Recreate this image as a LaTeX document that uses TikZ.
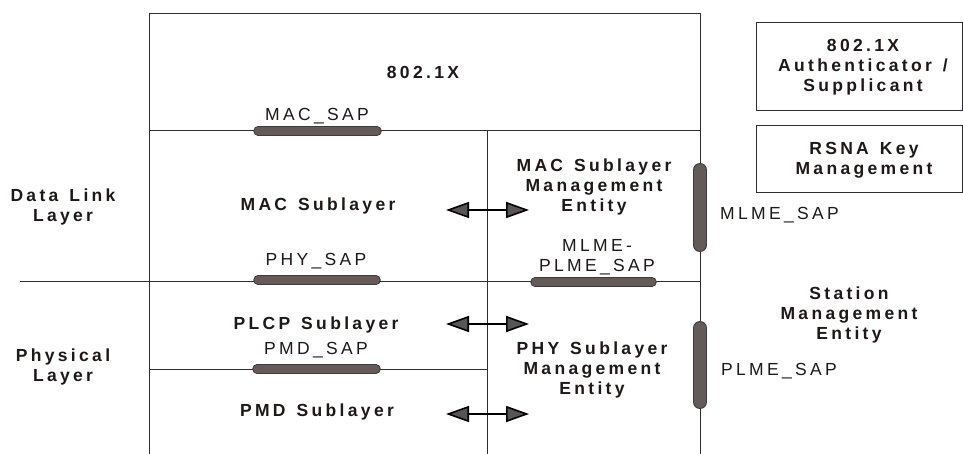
\documentclass[tikz,border=0pt]{standalone}
\usepackage{fontspec}
\setmainfont{Liberation Sans}
\newfontfamily\lsfont{Liberation Sans}[LetterSpace=19,WordSpace=1.35]
\usetikzlibrary{arrows.meta}
\definecolor{txt}{RGB}{30,24,24}
\definecolor{linec}{RGB}{45,45,50}
\definecolor{pillc}{RGB}{100,90,90}
\definecolor{pilld}{RGB}{65,58,58}
\definecolor{arrc}{RGB}{90,85,85}
\tikzset{
  lbl/.style={font=\lsfont\bfseries\fontsize{17.5}{20}\selectfont, align=center, text=txt, inner sep=0pt},
  saplbl/.style={font=\lsfont\fontsize{17.5}{20}\selectfont, align=center, text=txt, inner sep=0pt},
  thinline/.style={draw=linec, line width=1pt},
  hpill/.style={draw=pilld, line width=1pt, line cap=round, double=pillc, double distance=7.5pt},
  vpill/.style={draw=pilld, line width=1pt, line cap=round, double=pillc, double distance=12pt},
  darr/.style={draw=black, line width=1.6pt,
    {Triangle[length=23pt,width=16pt,fill=arrc]}-{Triangle[length=23pt,width=16pt,fill=arrc]}},
  boxr/.style={draw=linec, line width=1pt}
}
\begin{document}
\begin{tikzpicture}[x=1pt,y=-1pt]
\useasboundingbox (0,0) rectangle (963,454);
\fill[white] (0,0) rectangle (963,454);
% frame coordinates
\coordinate (tl) at (149,14);
\coordinate (tr) at (700,14);
\coordinate (bl) at (149,454);
\coordinate (br) at (700,454);
\coordinate (macl) at (149,131);
\coordinate (macr) at (700,131);
\coordinate (divt) at (487,131);
\coordinate (divb) at (487,454);
\coordinate (phyl) at (20,281);
\coordinate (phyr) at (700,281);
\coordinate (pmdl) at (149,369);
\coordinate (pmdr) at (487,369);
\draw[thinline] (bl) -- (tl) -- (tr) -- (br);
\draw[thinline] (macl) -- (macr);
\draw[thinline] (divt) -- (divb);
\draw[thinline] (phyl) -- (phyr);
\draw[thinline] (pmdl) -- (pmdr);
% SAP pills
\coordinate (macsapa) at (258,131);
\coordinate (macsapb) at (377,131);
\coordinate (physapa) at (258,280);
\coordinate (physapb) at (376,280);
\coordinate (pmdsapa) at (257,369);
\coordinate (pmdsapb) at (376,369);
\coordinate (mpsapa) at (535,282);
\coordinate (mpsapb) at (652,282);
\coordinate (mlmea) at (700,170);
\coordinate (mlmeb) at (700,245);
\coordinate (plmea) at (700,328);
\coordinate (plmeb) at (700,402);
\draw[hpill] (macsapa) -- (macsapb);
\draw[hpill] (physapa) -- (physapb);
\draw[hpill] (pmdsapa) -- (pmdsapb);
\draw[hpill] (mpsapa) -- (mpsapb);
\draw[vpill] (mlmea) -- (mlmeb);
\draw[vpill] (plmea) -- (plmeb);
% right boxes
\coordinate (b1a) at (756,23);
\coordinate (b1b) at (962,111);
\coordinate (b2a) at (756,126);
\coordinate (b2b) at (962,193);
\draw[boxr] (b1a) rectangle (b1b);
\draw[boxr] (b2a) rectangle (b2b);
% labels
\node[lbl] (x8021) at (423,72) {802.1X};
\node[saplbl] (macsap) at (317,116) {MAC\_SAP};
\node[lbl] (dll) at (63,207) {Data Link\\Layer};
\node[lbl] (macsub) at (318,206) {MAC Sublayer};
\node[lbl] (macsme) at (594,187) {MAC Sublayer\\Management\\Entity};
\node[saplbl, anchor=west] (mlmesap) at (720,215) {MLME\_SAP};
\node[saplbl] (mpsap) at (597,257) {MLME-\\PLME\_SAP};
\node[saplbl] (physap) at (316,261) {PHY\_SAP};
\node[lbl] (plcp) at (316,325) {PLCP Sublayer};
\node[saplbl] (pmdsap) at (316,350) {PMD\_SAP};
\node[lbl] (phys) at (63,367) {Physical\\Layer};
\node[lbl] (pmdsub) at (317,412) {PMD Sublayer};
\node[lbl] (physme) at (592,370) {PHY Sublayer\\Management\\Entity};
\node[lbl] (auth) at (863,67) {802.1X\\Authenticator /\\Supplicant};
\node[lbl] (rsna) at (864,160) {RSNA Key\\Management};
\node[lbl] (sme) at (849,315) {Station\\Management\\Entity};
\node[saplbl, anchor=west] (plmesap) at (721,371) {PLME\_SAP};
% double arrows
\coordinate (a1l) at (446,210);
\coordinate (a1r) at (529,210);
\coordinate (a2l) at (446,324);
\coordinate (a2r) at (529,324);
\coordinate (a3l) at (446,414);
\coordinate (a3r) at (529,414);
\draw[darr] (a1l) -- (a1r);
\draw[darr] (a2l) -- (a2r);
\draw[darr] (a3l) -- (a3r);
\end{tikzpicture}
\end{document}
